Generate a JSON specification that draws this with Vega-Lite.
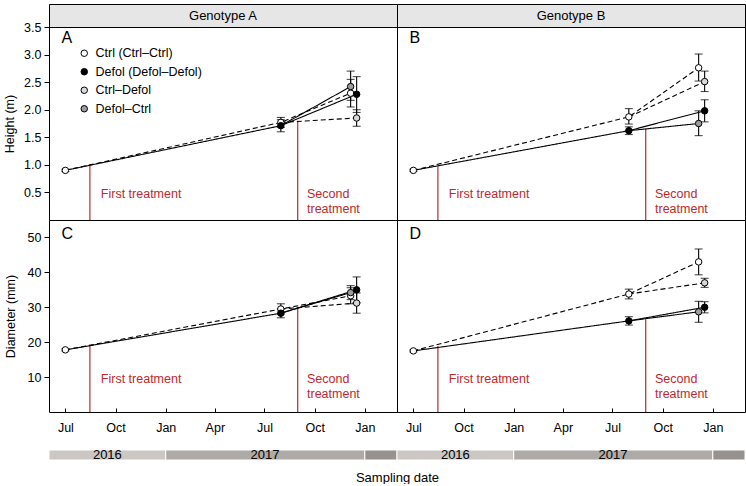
{
"$schema": "https://vega.github.io/schema/vega-lite/v6.json",
"padding": {"left": 3, "top": 3, "right": 0, "bottom": 0},
"datasets": {
"lines": [
{"p":"A","s":"CC","first":"Ctrl","d":"2016-07-01","v":0.9},{"p":"A","s":"CC","first":"Ctrl","d":"2017-07-31","v":1.77},{"p":"A","s":"CC","first":"Ctrl","d":"2017-12-06","v":2.30},
{"p":"A","s":"CD","first":"Ctrl","d":"2017-07-31","v":1.77},{"p":"A","s":"CD","first":"Ctrl","d":"2017-12-17","v":1.85},
{"p":"A","s":"DD","first":"Defol","d":"2016-07-01","v":0.9},{"p":"A","s":"DD","first":"Defol","d":"2017-07-31","v":1.71},{"p":"A","s":"DD","first":"Defol","d":"2017-12-17","v":2.28},
{"p":"A","s":"DC","first":"Defol","d":"2017-07-31","v":1.71},{"p":"A","s":"DC","first":"Defol","d":"2017-12-06","v":2.42},
{"p":"B","s":"CC","first":"Ctrl","d":"2016-07-01","v":0.9},{"p":"B","s":"CC","first":"Ctrl","d":"2017-07-31","v":1.87},{"p":"B","s":"CC","first":"Ctrl","d":"2017-12-06","v":2.76},
{"p":"B","s":"CD","first":"Ctrl","d":"2017-07-31","v":1.87},{"p":"B","s":"CD","first":"Ctrl","d":"2017-12-17","v":2.51},
{"p":"B","s":"DD","first":"Defol","d":"2016-07-01","v":0.9},{"p":"B","s":"DD","first":"Defol","d":"2017-07-31","v":1.62},{"p":"B","s":"DD","first":"Defol","d":"2017-12-17","v":1.98},
{"p":"B","s":"DC","first":"Defol","d":"2017-07-31","v":1.62},{"p":"B","s":"DC","first":"Defol","d":"2017-12-06","v":1.75},
{"p":"C","s":"CC","first":"Ctrl","d":"2016-07-01","v":17.8},{"p":"C","s":"CC","first":"Ctrl","d":"2017-07-31","v":29.5},{"p":"C","s":"CC","first":"Ctrl","d":"2017-12-06","v":33.3},
{"p":"C","s":"CD","first":"Ctrl","d":"2017-07-31","v":29.5},{"p":"C","s":"CD","first":"Ctrl","d":"2017-12-17","v":31.2},
{"p":"C","s":"DD","first":"Defol","d":"2016-07-01","v":17.8},{"p":"C","s":"DD","first":"Defol","d":"2017-07-31","v":28.3},{"p":"C","s":"DD","first":"Defol","d":"2017-12-17","v":35.0},
{"p":"C","s":"DC","first":"Defol","d":"2017-07-31","v":28.3},{"p":"C","s":"DC","first":"Defol","d":"2017-12-06","v":34.2},
{"p":"D","s":"CC","first":"Ctrl","d":"2016-07-01","v":17.5},{"p":"D","s":"CC","first":"Ctrl","d":"2017-07-31","v":33.8},{"p":"D","s":"CC","first":"Ctrl","d":"2017-12-06","v":43.0},
{"p":"D","s":"CD","first":"Ctrl","d":"2017-07-31","v":33.8},{"p":"D","s":"CD","first":"Ctrl","d":"2017-12-17","v":37.0},
{"p":"D","s":"DD","first":"Defol","d":"2016-07-01","v":17.5},{"p":"D","s":"DD","first":"Defol","d":"2017-07-31","v":26.1},{"p":"D","s":"DD","first":"Defol","d":"2017-12-17","v":30.0},
{"p":"D","s":"DC","first":"Defol","d":"2017-07-31","v":26.1},{"p":"D","s":"DC","first":"Defol","d":"2017-12-06","v":28.7}
],
"pts": [
{"p":"A","g":"Ctrl (Ctrl–Ctrl)","d":"2016-07-01","v":0.9,"lo":0.88,"hi":0.92},
{"p":"A","g":"Ctrl (Ctrl–Ctrl)","d":"2017-07-31","v":1.77,"lo":1.68,"hi":1.86},
{"p":"A","g":"Defol (Defol–Defol)","d":"2017-07-31","v":1.71,"lo":1.60,"hi":1.82},
{"p":"A","g":"Ctrl (Ctrl–Ctrl)","d":"2017-12-06","v":2.30,"lo":2.05,"hi":2.55},
{"p":"A","g":"Defol–Ctrl","d":"2017-12-06","v":2.42,"lo":2.17,"hi":2.70},
{"p":"A","g":"Defol (Defol–Defol)","d":"2017-12-17","v":2.28,"lo":1.95,"hi":2.60},
{"p":"A","g":"Ctrl–Defol","d":"2017-12-17","v":1.85,"lo":1.70,"hi":2.00},
{"p":"B","g":"Ctrl (Ctrl–Ctrl)","d":"2016-07-01","v":0.9,"lo":0.88,"hi":0.92},
{"p":"B","g":"Ctrl (Ctrl–Ctrl)","d":"2017-07-31","v":1.87,"lo":1.74,"hi":2.02},
{"p":"B","g":"Defol (Defol–Defol)","d":"2017-07-31","v":1.62,"lo":1.55,"hi":1.69},
{"p":"B","g":"Ctrl (Ctrl–Ctrl)","d":"2017-12-06","v":2.76,"lo":2.52,"hi":3.01},
{"p":"B","g":"Defol–Ctrl","d":"2017-12-06","v":1.75,"lo":1.53,"hi":1.98},
{"p":"B","g":"Ctrl–Defol","d":"2017-12-17","v":2.51,"lo":2.33,"hi":2.70},
{"p":"B","g":"Defol (Defol–Defol)","d":"2017-12-17","v":1.98,"lo":1.78,"hi":2.18},
{"p":"C","g":"Ctrl (Ctrl–Ctrl)","d":"2016-07-01","v":17.8,"lo":17.5,"hi":18.1},
{"p":"C","g":"Ctrl (Ctrl–Ctrl)","d":"2017-07-31","v":29.5,"lo":28.0,"hi":31.0},
{"p":"C","g":"Defol (Defol–Defol)","d":"2017-07-31","v":28.3,"lo":27.0,"hi":29.6},
{"p":"C","g":"Ctrl (Ctrl–Ctrl)","d":"2017-12-06","v":33.3,"lo":31.0,"hi":35.6},
{"p":"C","g":"Defol–Ctrl","d":"2017-12-06","v":34.2,"lo":32.2,"hi":36.2},
{"p":"C","g":"Defol (Defol–Defol)","d":"2017-12-17","v":35.0,"lo":31.3,"hi":38.7},
{"p":"C","g":"Ctrl–Defol","d":"2017-12-17","v":31.2,"lo":28.3,"hi":34.1},
{"p":"D","g":"Ctrl (Ctrl–Ctrl)","d":"2016-07-01","v":17.5,"lo":17.2,"hi":17.8},
{"p":"D","g":"Ctrl (Ctrl–Ctrl)","d":"2017-07-31","v":33.8,"lo":32.4,"hi":35.2},
{"p":"D","g":"Defol (Defol–Defol)","d":"2017-07-31","v":26.1,"lo":24.9,"hi":27.3},
{"p":"D","g":"Ctrl (Ctrl–Ctrl)","d":"2017-12-06","v":43.0,"lo":39.3,"hi":46.7},
{"p":"D","g":"Defol–Ctrl","d":"2017-12-06","v":28.7,"lo":25.7,"hi":31.7},
{"p":"D","g":"Ctrl–Defol","d":"2017-12-17","v":37.0,"lo":35.7,"hi":38.3},
{"p":"D","g":"Defol (Defol–Defol)","d":"2017-12-17","v":30.0,"lo":28.4,"hi":31.6}
],
"treat": [
{"p":"A","d":"2016-08-15","v":0.99},{"p":"A","d":"2017-08-31","v":1.80},
{"p":"B","d":"2016-08-15","v":0.97},{"p":"B","d":"2017-08-31","v":1.66},
{"p":"C","d":"2016-08-15","v":18.9},{"p":"C","d":"2017-08-31","v":29.7},
{"p":"D","d":"2016-08-15","v":18.9},{"p":"D","d":"2017-08-31","v":26.6}
],
"years": [
{"y":"2016","s":"2016-06-01","e":"2017-01-01","m":"2016-09-16","lab":"2016"},
{"y":"2017","s":"2017-01-01","e":"2018-01-01","m":"2017-07-02","lab":"2017"},
{"y":"2018","s":"2018-01-01","e":"2018-03-01","m":"2018-02-01","lab":""}
]
},
"columns": 2,
"spacing": 0,
"bounds": "flush",
"concat": [
{"width":348,"height":23,"view":{"fill":"#e6e6e6","stroke":"black"},"data":{"values":[{}]},"mark":{"type":"text","text":"Genotype A","fontSize":13,"baseline":"middle","align":"center","color":"black"},"encoding":{}},
{"width":348,"height":23,"view":{"fill":"#e6e6e6","stroke":"black"},"data":{"values":[{}]},"mark":{"type":"text","text":"Genotype B","fontSize":13,"baseline":"middle","align":"center","color":"black"},"encoding":{}},
{"width":348,"height":193,"layer":[
 {"data":{"name":"treat"},"transform":[{"filter":"datum.p==='A'"}],"mark":{"type":"rule","color":"#c1272d","strokeWidth":1.2},
  "encoding":{"x":{"field":"d","type":"temporal","scale":{"domain":[{"year":2016,"month":6,"date":1},{"year":2018,"month":3,"date":1}],"nice":false},"axis":null},
   "y":{"field":"v","type":"quantitative","scale":{"domain":[0,3.5],"nice":false,"zero":false},"axis":{"values":[0.5,1,1.5,2,2.5,3,3.5],"tickCount":20,"format":".1f","title":"Height (m)","tickSize":5,"labelPadding":3,"titlePadding":7,"labelFlush":false,"labelOverlap":false}},
   "y2":{"datum":0}}},
 {"data":{"name":"lines"},"transform":[{"filter":"datum.p==='A'"}],"mark":{"type":"line","color":"black","strokeWidth":1.1},
  "encoding":{"x":{"field":"d","type":"temporal"},"y":{"field":"v","type":"quantitative"},"detail":{"field":"s","type":"nominal"},
   "strokeDash":{"field":"first","type":"nominal","scale":{"domain":["Ctrl","Defol"],"range":[[5,3],[1,0]]},"legend":null}}},
 {"data":{"name":"pts"},"transform":[{"filter":"datum.p==='A'"}],"mark":{"type":"rule","color":"black","strokeWidth":1.1},
  "encoding":{"x":{"field":"d","type":"temporal"},"y":{"field":"lo","type":"quantitative"},"y2":{"field":"hi"}}},
 {"data":{"name":"pts"},"transform":[{"filter":"datum.p==='A'"}],"mark":{"type":"tick","orient":"horizontal","size":8,"thickness":1.1,"color":"black"},
  "encoding":{"x":{"field":"d","type":"temporal"},"y":{"field":"lo","type":"quantitative"}}},
 {"data":{"name":"pts"},"transform":[{"filter":"datum.p==='A'"}],"mark":{"type":"tick","orient":"horizontal","size":8,"thickness":1.1,"color":"black"},
  "encoding":{"x":{"field":"d","type":"temporal"},"y":{"field":"hi","type":"quantitative"}}},
 {"data":{"name":"pts"},"transform":[{"filter":"datum.p==='A'"}],"mark":{"type":"circle","size":42,"stroke":"black","strokeWidth":1,"opacity":1},
  "encoding":{"x":{"field":"d","type":"temporal"},"y":{"field":"v","type":"quantitative"},
   "fill":{"field":"g","type":"nominal","scale":{"domain":["Ctrl (Ctrl–Ctrl)","Defol (Defol–Defol)","Ctrl–Defol","Defol–Ctrl"],"range":["#ffffff","#000000","#d9d9d9","#9c9c9c"]},
    "legend":{"orient":"none","legendX":29,"legendY":20,"title":null,"symbolType":"circle","symbolSize":42,"symbolStrokeColor":"black","symbolStrokeWidth":1,"symbolOpacity":1,"labelFontSize":12.5,"labelColor":"black","rowPadding":5.5,"labelOffset":5,"padding":0}}}},
 {"data":{"values":[{}]},"mark":{"type":"text","text":"A","fontSize":16,"align":"left","baseline":"middle","color":"black"},
  "encoding":{"x":{"datum":{"year":2016,"month":6,"date":24},"type":"temporal"},"y":{"datum":3.3,"type":"quantitative"}}},
 {"data":{"values":[{}]},"mark":{"type":"text","text":"First treatment","fontSize":12.5,"align":"left","baseline":"middle","color":"#c1272d"},
  "encoding":{"x":{"datum":{"year":2016,"month":9,"date":4},"type":"temporal"},"y":{"datum":0.47,"type":"quantitative"}}},
 {"data":{"values":[{}]},"mark":{"type":"text","text":["Second","treatment"],"lineHeight":15,"fontSize":12.5,"align":"left","baseline":"middle","color":"#c1272d"},
  "encoding":{"x":{"datum":{"year":2017,"month":9,"date":17},"type":"temporal"},"y":{"datum":0.47,"type":"quantitative"}}}
]},
{"width":348,"height":193,"layer":[
 {"data":{"name":"treat"},"transform":[{"filter":"datum.p==='B'"}],"mark":{"type":"rule","color":"#c1272d","strokeWidth":1.2},
  "encoding":{"x":{"field":"d","type":"temporal","scale":{"domain":[{"year":2016,"month":6,"date":1},{"year":2018,"month":3,"date":1}],"nice":false},"axis":null},
   "y":{"field":"v","type":"quantitative","scale":{"domain":[0,3.5],"nice":false,"zero":false},"axis":null},
   "y2":{"datum":0}}},
 {"data":{"name":"lines"},"transform":[{"filter":"datum.p==='B'"}],"mark":{"type":"line","color":"black","strokeWidth":1.1},
  "encoding":{"x":{"field":"d","type":"temporal"},"y":{"field":"v","type":"quantitative"},"detail":{"field":"s","type":"nominal"},
   "strokeDash":{"field":"first","type":"nominal","scale":{"domain":["Ctrl","Defol"],"range":[[5,3],[1,0]]},"legend":null}}},
 {"data":{"name":"pts"},"transform":[{"filter":"datum.p==='B'"}],"mark":{"type":"rule","color":"black","strokeWidth":1.1},
  "encoding":{"x":{"field":"d","type":"temporal"},"y":{"field":"lo","type":"quantitative"},"y2":{"field":"hi"}}},
 {"data":{"name":"pts"},"transform":[{"filter":"datum.p==='B'"}],"mark":{"type":"tick","orient":"horizontal","size":8,"thickness":1.1,"color":"black"},
  "encoding":{"x":{"field":"d","type":"temporal"},"y":{"field":"lo","type":"quantitative"}}},
 {"data":{"name":"pts"},"transform":[{"filter":"datum.p==='B'"}],"mark":{"type":"tick","orient":"horizontal","size":8,"thickness":1.1,"color":"black"},
  "encoding":{"x":{"field":"d","type":"temporal"},"y":{"field":"hi","type":"quantitative"}}},
 {"data":{"name":"pts"},"transform":[{"filter":"datum.p==='B'"}],"mark":{"type":"circle","size":42,"stroke":"black","strokeWidth":1,"opacity":1},
  "encoding":{"x":{"field":"d","type":"temporal"},"y":{"field":"v","type":"quantitative"},
   "fill":{"field":"g","type":"nominal","scale":{"domain":["Ctrl (Ctrl–Ctrl)","Defol (Defol–Defol)","Ctrl–Defol","Defol–Ctrl"],"range":["#ffffff","#000000","#d9d9d9","#9c9c9c"]},"legend":null}}},
 {"data":{"values":[{}]},"mark":{"type":"text","text":"B","fontSize":16,"align":"left","baseline":"middle","color":"black"},
  "encoding":{"x":{"datum":{"year":2016,"month":6,"date":24},"type":"temporal"},"y":{"datum":3.3,"type":"quantitative"}}},
 {"data":{"values":[{}]},"mark":{"type":"text","text":"First treatment","fontSize":12.5,"align":"left","baseline":"middle","color":"#c1272d"},
  "encoding":{"x":{"datum":{"year":2016,"month":9,"date":4},"type":"temporal"},"y":{"datum":0.47,"type":"quantitative"}}},
 {"data":{"values":[{}]},"mark":{"type":"text","text":["Second","treatment"],"lineHeight":15,"fontSize":12.5,"align":"left","baseline":"middle","color":"#c1272d"},
  "encoding":{"x":{"datum":{"year":2017,"month":9,"date":17},"type":"temporal"},"y":{"datum":0.47,"type":"quantitative"}}}
]},
{"width":348,"height":192,"layer":[
 {"data":{"name":"treat"},"transform":[{"filter":"datum.p==='C'"}],"mark":{"type":"rule","color":"#c1272d","strokeWidth":1.2},
  "encoding":{"x":{"field":"d","type":"temporal","scale":{"domain":[{"year":2016,"month":6,"date":1},{"year":2018,"month":3,"date":1}],"nice":false},
    "axis":{"values":[{"year":2016,"month":7,"date":1},{"year":2016,"month":10,"date":1},{"year":2017,"month":1,"date":1},{"year":2017,"month":4,"date":1},{"year":2017,"month":7,"date":1},{"year":2017,"month":10,"date":1},{"year":2018,"month":1,"date":1}],"tickCount":20,"format":"%b","title":null,"tickSize":-4,"labelPadding":13,"labelFlush":false,"labelOverlap":false}},
   "y":{"field":"v","type":"quantitative","scale":{"domain":[0,55],"nice":false,"zero":false},"axis":{"values":[10,20,30,40,50],"tickCount":20,"title":"Diameter (mm)","tickSize":5,"labelPadding":3,"titlePadding":10,"labelFlush":false,"labelOverlap":false}},
   "y2":{"datum":0}}},
 {"data":{"name":"lines"},"transform":[{"filter":"datum.p==='C'"}],"mark":{"type":"line","color":"black","strokeWidth":1.1},
  "encoding":{"x":{"field":"d","type":"temporal"},"y":{"field":"v","type":"quantitative"},"detail":{"field":"s","type":"nominal"},
   "strokeDash":{"field":"first","type":"nominal","scale":{"domain":["Ctrl","Defol"],"range":[[5,3],[1,0]]},"legend":null}}},
 {"data":{"name":"pts"},"transform":[{"filter":"datum.p==='C'"}],"mark":{"type":"rule","color":"black","strokeWidth":1.1},
  "encoding":{"x":{"field":"d","type":"temporal"},"y":{"field":"lo","type":"quantitative"},"y2":{"field":"hi"}}},
 {"data":{"name":"pts"},"transform":[{"filter":"datum.p==='C'"}],"mark":{"type":"tick","orient":"horizontal","size":8,"thickness":1.1,"color":"black"},
  "encoding":{"x":{"field":"d","type":"temporal"},"y":{"field":"lo","type":"quantitative"}}},
 {"data":{"name":"pts"},"transform":[{"filter":"datum.p==='C'"}],"mark":{"type":"tick","orient":"horizontal","size":8,"thickness":1.1,"color":"black"},
  "encoding":{"x":{"field":"d","type":"temporal"},"y":{"field":"hi","type":"quantitative"}}},
 {"data":{"name":"pts"},"transform":[{"filter":"datum.p==='C'"}],"mark":{"type":"circle","size":42,"stroke":"black","strokeWidth":1,"opacity":1},
  "encoding":{"x":{"field":"d","type":"temporal"},"y":{"field":"v","type":"quantitative"},
   "fill":{"field":"g","type":"nominal","scale":{"domain":["Ctrl (Ctrl–Ctrl)","Defol (Defol–Defol)","Ctrl–Defol","Defol–Ctrl"],"range":["#ffffff","#000000","#d9d9d9","#9c9c9c"]},"legend":null}}},
 {"data":{"values":[{}]},"mark":{"type":"text","text":"C","fontSize":16,"align":"left","baseline":"middle","color":"black"},
  "encoding":{"x":{"datum":{"year":2016,"month":6,"date":24},"type":"temporal"},"y":{"datum":51,"type":"quantitative"}}},
 {"data":{"values":[{}]},"mark":{"type":"text","text":"First treatment","fontSize":12.5,"align":"left","baseline":"middle","color":"#c1272d"},
  "encoding":{"x":{"datum":{"year":2016,"month":9,"date":4},"type":"temporal"},"y":{"datum":9.5,"type":"quantitative"}}},
 {"data":{"values":[{}]},"mark":{"type":"text","text":["Second","treatment"],"lineHeight":15,"fontSize":12.5,"align":"left","baseline":"middle","color":"#c1272d"},
  "encoding":{"x":{"datum":{"year":2017,"month":9,"date":17},"type":"temporal"},"y":{"datum":9.5,"type":"quantitative"}}}
]},
{"width":348,"height":192,"layer":[
 {"data":{"name":"treat"},"transform":[{"filter":"datum.p==='D'"}],"mark":{"type":"rule","color":"#c1272d","strokeWidth":1.2},
  "encoding":{"x":{"field":"d","type":"temporal","scale":{"domain":[{"year":2016,"month":6,"date":1},{"year":2018,"month":3,"date":1}],"nice":false},
    "axis":{"values":[{"year":2016,"month":7,"date":1},{"year":2016,"month":10,"date":1},{"year":2017,"month":1,"date":1},{"year":2017,"month":4,"date":1},{"year":2017,"month":7,"date":1},{"year":2017,"month":10,"date":1},{"year":2018,"month":1,"date":1}],"tickCount":20,"format":"%b","title":null,"tickSize":-4,"labelPadding":13,"labelFlush":false,"labelOverlap":false}},
   "y":{"field":"v","type":"quantitative","scale":{"domain":[0,55],"nice":false,"zero":false},"axis":null},
   "y2":{"datum":0}}},
 {"data":{"name":"lines"},"transform":[{"filter":"datum.p==='D'"}],"mark":{"type":"line","color":"black","strokeWidth":1.1},
  "encoding":{"x":{"field":"d","type":"temporal"},"y":{"field":"v","type":"quantitative"},"detail":{"field":"s","type":"nominal"},
   "strokeDash":{"field":"first","type":"nominal","scale":{"domain":["Ctrl","Defol"],"range":[[5,3],[1,0]]},"legend":null}}},
 {"data":{"name":"pts"},"transform":[{"filter":"datum.p==='D'"}],"mark":{"type":"rule","color":"black","strokeWidth":1.1},
  "encoding":{"x":{"field":"d","type":"temporal"},"y":{"field":"lo","type":"quantitative"},"y2":{"field":"hi"}}},
 {"data":{"name":"pts"},"transform":[{"filter":"datum.p==='D'"}],"mark":{"type":"tick","orient":"horizontal","size":8,"thickness":1.1,"color":"black"},
  "encoding":{"x":{"field":"d","type":"temporal"},"y":{"field":"lo","type":"quantitative"}}},
 {"data":{"name":"pts"},"transform":[{"filter":"datum.p==='D'"}],"mark":{"type":"tick","orient":"horizontal","size":8,"thickness":1.1,"color":"black"},
  "encoding":{"x":{"field":"d","type":"temporal"},"y":{"field":"hi","type":"quantitative"}}},
 {"data":{"name":"pts"},"transform":[{"filter":"datum.p==='D'"}],"mark":{"type":"circle","size":42,"stroke":"black","strokeWidth":1,"opacity":1},
  "encoding":{"x":{"field":"d","type":"temporal"},"y":{"field":"v","type":"quantitative"},
   "fill":{"field":"g","type":"nominal","scale":{"domain":["Ctrl (Ctrl–Ctrl)","Defol (Defol–Defol)","Ctrl–Defol","Defol–Ctrl"],"range":["#ffffff","#000000","#d9d9d9","#9c9c9c"]},"legend":null}}},
 {"data":{"values":[{}]},"mark":{"type":"text","text":"D","fontSize":16,"align":"left","baseline":"middle","color":"black"},
  "encoding":{"x":{"datum":{"year":2016,"month":6,"date":24},"type":"temporal"},"y":{"datum":51,"type":"quantitative"}}},
 {"data":{"values":[{}]},"mark":{"type":"text","text":"First treatment","fontSize":12.5,"align":"left","baseline":"middle","color":"#c1272d"},
  "encoding":{"x":{"datum":{"year":2016,"month":9,"date":4},"type":"temporal"},"y":{"datum":9.5,"type":"quantitative"}}},
 {"data":{"values":[{}]},"mark":{"type":"text","text":["Second","treatment"],"lineHeight":15,"fontSize":12.5,"align":"left","baseline":"middle","color":"#c1272d"},
  "encoding":{"x":{"datum":{"year":2017,"month":9,"date":17},"type":"temporal"},"y":{"datum":9.5,"type":"quantitative"}}}
]},
{"width":348,"height":48,"view":{"stroke":null},"data":{"name":"years"},"layer":[
 {"mark":{"type":"rect","stroke":"white","strokeWidth":1},
  "encoding":{"x":{"field":"s","type":"temporal","scale":{"domain":[{"year":2016,"month":6,"date":1},{"year":2018,"month":3,"date":1}],"nice":false},
     "axis":{"title":"Sampling date","labels":false,"ticks":false,"domain":false,"titleX":348,"titleAlign":"center","titlePadding":11,"titleFontSize":13}},"x2":{"field":"e"},
   "y":{"datum":0,"type":"quantitative","scale":{"domain":[0,4.8],"nice":false},"axis":null},"y2":{"datum":1},
   "fill":{"field":"y","type":"nominal","scale":{"domain":["2016","2017","2018"],"range":["#cac7c5","#adaaa8","#959290"]},"legend":null}}},
 {"transform":[{"filter":"datum.lab !== ''"}],"mark":{"type":"text","fontSize":13,"color":"black","baseline":"middle","align":"center"},
  "encoding":{"x":{"field":"m","type":"temporal"},"y":{"datum":0.5,"type":"quantitative"},"text":{"field":"lab"}}}
]},
{"width":348,"height":48,"view":{"stroke":null},"data":{"name":"years"},"layer":[
 {"mark":{"type":"rect","stroke":"white","strokeWidth":1},
  "encoding":{"x":{"field":"s","type":"temporal","scale":{"domain":[{"year":2016,"month":6,"date":1},{"year":2018,"month":3,"date":1}],"nice":false},"axis":null},"x2":{"field":"e"},
   "y":{"datum":0,"type":"quantitative","scale":{"domain":[0,4.8],"nice":false},"axis":null},"y2":{"datum":1},
   "fill":{"field":"y","type":"nominal","scale":{"domain":["2016","2017","2018"],"range":["#cac7c5","#adaaa8","#959290"]},"legend":null}}},
 {"transform":[{"filter":"datum.lab !== ''"}],"mark":{"type":"text","fontSize":13,"color":"black","baseline":"middle","align":"center"},
  "encoding":{"x":{"field":"m","type":"temporal"},"y":{"datum":0.5,"type":"quantitative"},"text":{"field":"lab"}}}
]}
],
"resolve": {"scale": {"x":"independent","y":"independent","fill":"independent","strokeDash":"independent"},"axis":{"x":"independent","y":"independent"},"legend":{"fill":"independent","strokeDash":"independent"}},
"config": {
 "font": "Liberation Sans",
 "view": {"stroke":"black","strokeWidth":1},
 "axis": {"labelColor":"black","titleColor":"black","tickColor":"black","tickWidth":1,"labelFontSize":12.5,"titleFontSize":12.5,"titleFontWeight":"normal","grid":false,"domain":false},
 "text": {"font":"Liberation Sans"},
 "legend": {"labelFont":"Liberation Sans"}
}
}
